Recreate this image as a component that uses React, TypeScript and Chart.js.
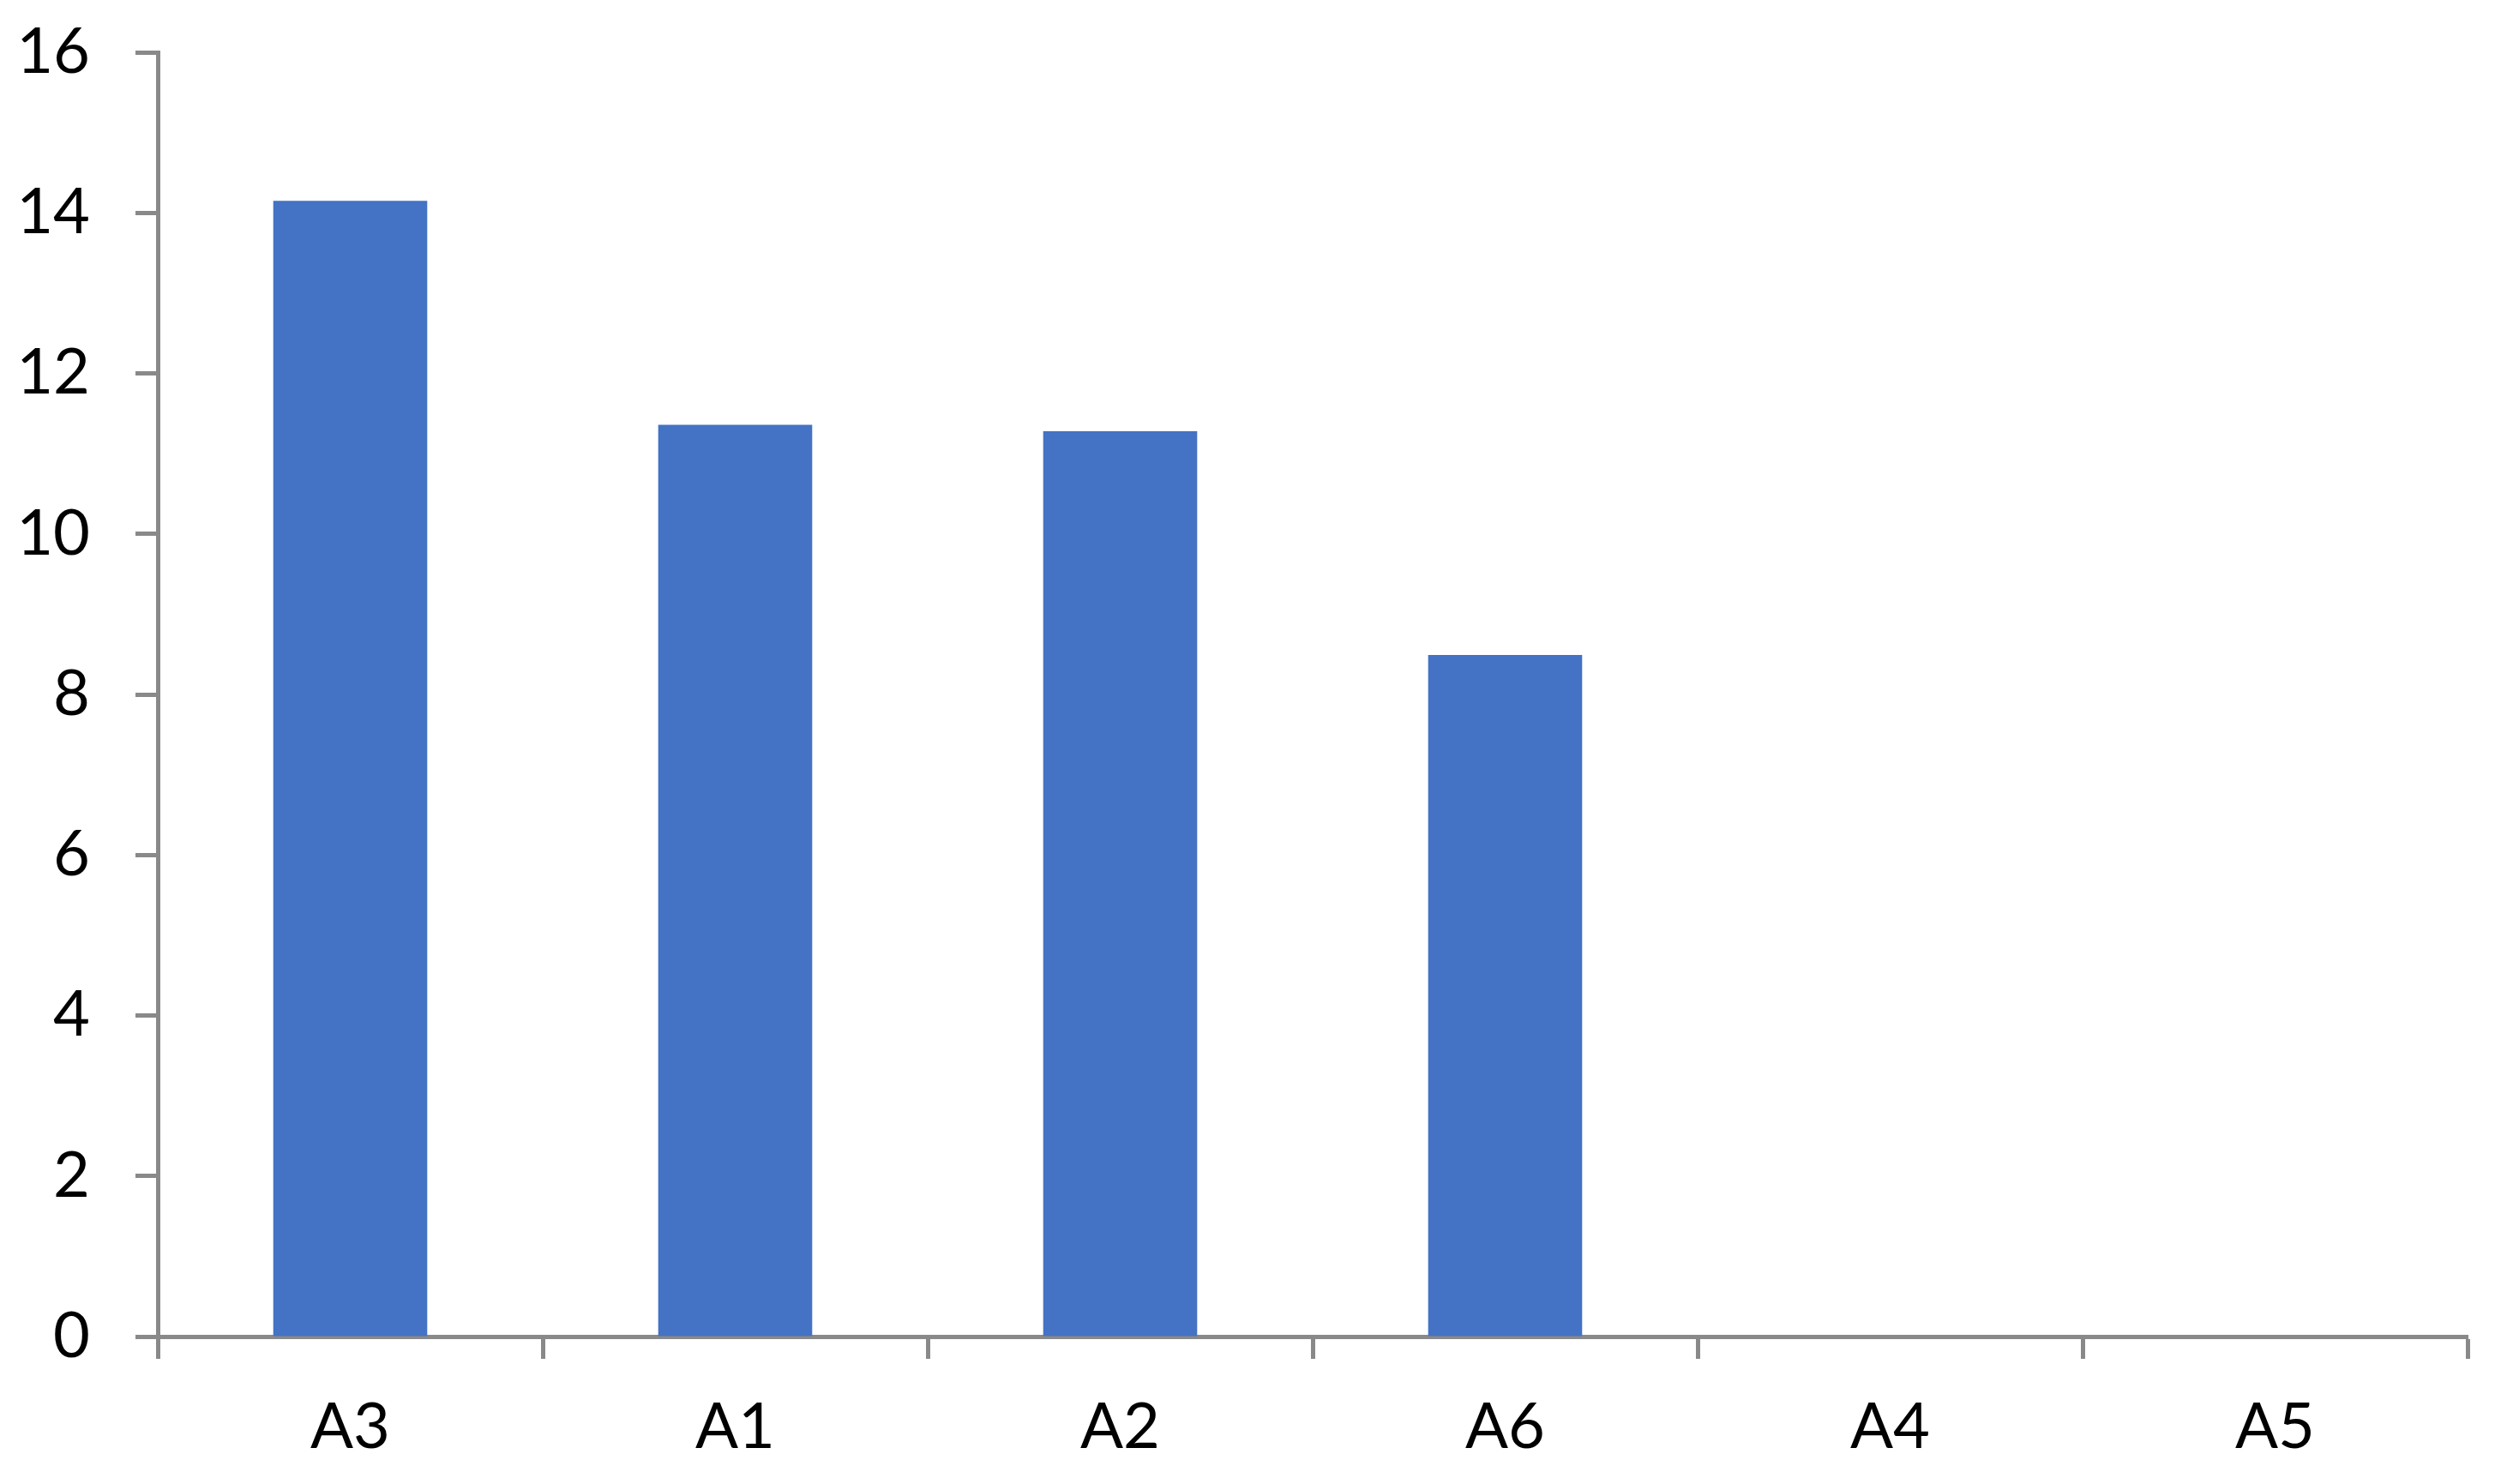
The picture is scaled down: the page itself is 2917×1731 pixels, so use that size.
import React, { useEffect, useRef } from "react";
import { Chart, registerables } from "chart.js";

Chart.register(...registerables);

const categories = ["A3", "A1", "A2", "A6", "A4", "A5"];
const values = [14.15, 11.36, 11.28, 8.49, 0, 0];
const yTicks = [0, 2, 4, 6, 8, 10, 12, 14, 16];

const W = 2917;
const H = 1731;
const AXIS = "#898989";
const BAR = "#4472C4";
const FONT = { family: "Lato", size: 74 };

export default function App() {
  const ref = useRef<HTMLCanvasElement | null>(null);

  useEffect(() => {
    if (!ref.current) return;
    const chart = new Chart(ref.current, {
      type: "bar",
      data: {
        labels: categories,
        datasets: [
          {
            data: values,
            backgroundColor: BAR,
            borderWidth: 0,
            barPercentage: 0.4,
            categoryPercentage: 1,
          },
        ],
      },
      options: {
        responsive: false,
        animation: false,
        layout: { padding: { left: 0, top: 61, right: 39, bottom: 0 } },
        plugins: { legend: { display: false }, tooltip: { enabled: false } },
        scales: {
          x: {
            grid: {
              display: true,
              drawOnChartArea: false,
              drawTicks: true,
              tickLength: 26,
              tickWidth: 5,
              tickColor: AXIS,
              offset: true,
            },
            border: { display: true, color: AXIS, width: 5 },
            ticks: { color: "#000", font: FONT, padding: 36, maxRotation: 0 },
            afterFit: (s: any) => {
              s.height = 172;
              s.paddingLeft = 0;
              s.paddingRight = 0;
            },
          },
          y: {
            min: 0,
            max: 16,
            afterBuildTicks: (s: any) => {
              s.ticks = yTicks.map((v) => ({ value: v }));
            },
            grid: {
              display: true,
              drawOnChartArea: false,
              drawTicks: true,
              tickLength: 26,
              tickWidth: 5,
              tickColor: AXIS,
            },
            border: { display: true, color: AXIS, width: 5 },
            ticks: { color: "#000", font: FONT, padding: 53 },
            afterFit: (s: any) => {
              s.width = 184;
              s.paddingTop = 0;
              s.paddingBottom = 0;
            },
          },
        },
      },
    });
    return () => chart.destroy();
  }, []);

  return (
    <div style={{ position: "absolute", left: 0, top: 0, width: W, height: H, background: "#fff" }}>
      <canvas ref={ref} width={W} height={H} style={{ width: W, height: H, display: "block" }} />
    </div>
  );
}
